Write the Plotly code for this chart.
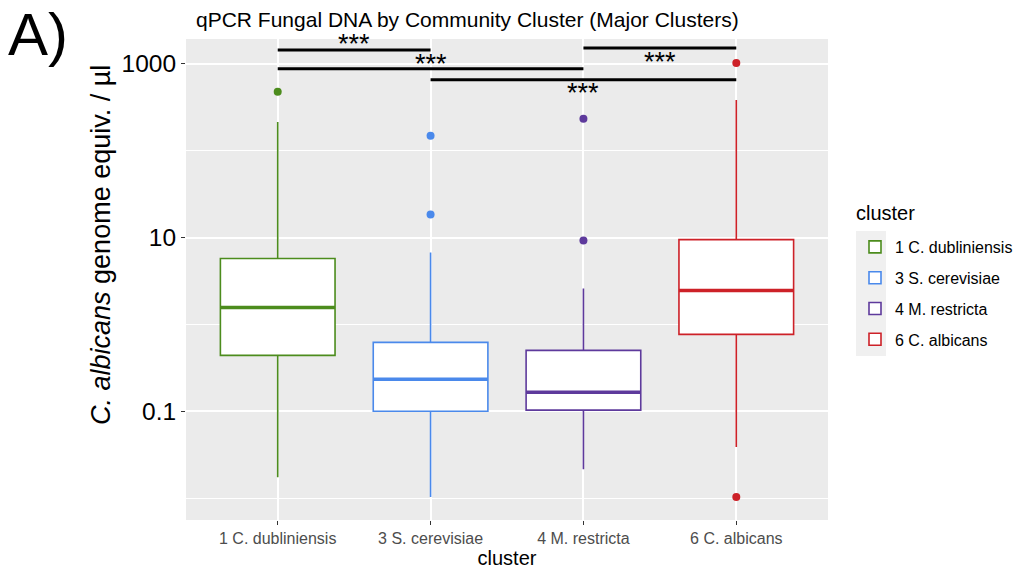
import numpy as np
import plotly.graph_objects as go

clusters = ["1 C. dubliniensis", "3 S. cerevisiae", "4 M. restricta", "6 C. albicans"]
colors = ["#4C8C1D", "#4A89EB", "#5E3A9C", "#CD2128"]
lower_whisker = [0.0174, 0.0103, 0.0215, 0.0386]
q1 = [0.44, 0.100, 0.103, 0.767]
median = [1.57, 0.233, 0.165, 2.46]
q3 = [5.74, 0.621, 0.502, 9.48]
upper_whisker = [215, 6.72, 2.59, 385]
outliers = [[477], [18.4, 148.6], [9.24, 233], [0.0103, 1027]]

sig_from = [0, 0, 2, 1]
sig_to = [1, 2, 3, 3]
sig_height = [1449, 877, 1528, 655]
sig_label = ["***", "***", "***", "***"]
sig_shift = [6, 5, -14, -13]

y_tick_vals = [0.1, 10, 1000]
y_tick_text = ["0.1", "10", "1000"]
y_minor_vals = [0.01, 1, 100]

FONT = "Liberation Sans, Arial, Helvetica, sans-serif"
BOX_W = 0.75

# plot-area geometry in pixels (for paper-coordinate text placement)
L, R, T, B = 186, 828, 39, 520
W, H = 1017, 570


def px(xp):
    return (xp - L) / (R - L)


def py(yp):
    return (B - yp) / (B - T)


fig = go.Figure()
for i, name in enumerate(clusters):
    fig.add_trace(go.Box(
        x=[i], q1=[q1[i]], median=[median[i]], q3=[q3[i]],
        lowerfence=[lower_whisker[i]], upperfence=[upper_whisker[i]],
        width=BOX_W, whiskerwidth=0, fillcolor="white",
        line=dict(color=colors[i], width=1.6),
        name=name, legendgroup=name, boxpoints=False,
    ))
for i, name in enumerate(clusters):
    fig.add_trace(go.Scatter(
        x=[i - BOX_W / 2, i + BOX_W / 2], y=[median[i], median[i]],
        mode="lines", line=dict(color=colors[i], width=3.5),
        showlegend=False, hoverinfo="skip",
    ))
    fig.add_trace(go.Scatter(
        x=[i] * len(outliers[i]), y=outliers[i], mode="markers",
        marker=dict(color=colors[i], size=8),
        showlegend=False,
    ))

for a, b, h, lab, sh in zip(sig_from, sig_to, sig_height, sig_label, sig_shift):
    fig.add_trace(go.Scatter(
        x=[a, b], y=[h, h], mode="lines",
        line=dict(color="black", width=3), showlegend=False,
        hoverinfo="skip", cliponaxis=False,
    ))
    fig.add_annotation(
        x=(a + b) / 2, y=np.log10(h), xref="x", yref="y",
        text=lab, showarrow=False, yanchor="middle", yshift=sh,
        font=dict(family=FONT, size=27, color="black"),
    )

# panel label
fig.add_annotation(
    x=px(6), y=py(34), xref="paper", yref="paper",
    text="A)", showarrow=False, xanchor="left", yanchor="middle",
    font=dict(family=FONT, size=60, color="black"),
)
# title
fig.add_annotation(
    x=px(194), y=py(19), xref="paper", yref="paper",
    text="qPCR Fungal DNA by Community Cluster (Major Clusters)",
    showarrow=False, xanchor="left", yanchor="middle",
    font=dict(family=FONT, size=21, color="black"),
)
# y-axis title
fig.add_annotation(
    x=px(101), y=py(245), xref="paper", yref="paper",
    text="<i>C. albicans</i> genome equiv. / µl", textangle=-90,
    showarrow=False, xanchor="center", yanchor="middle",
    font=dict(family=FONT, size=27, color="black"),
)
# legend title
fig.add_annotation(
    x=px(854), y=py(213), xref="paper", yref="paper",
    text="cluster", showarrow=False, xanchor="left", yanchor="middle",
    font=dict(family=FONT, size=20, color="black"),
)
# legend key background
fig.add_shape(
    type="rect", xref="paper", yref="paper",
    x0=px(856), x1=px(886), y0=py(356), y1=py(231),
    fillcolor="#F0F0F0", line=dict(width=0), layer="below",
)

fig.update_layout(
    width=W, height=H,
    margin=dict(l=L, r=W - R, t=T, b=H - B, autoexpand=False),
    paper_bgcolor="white", plot_bgcolor="#EBEBEB",
    font=dict(family=FONT, color="black"),
    boxmode="overlay",
    xaxis=dict(
        range=[-0.6, 3.6], tickmode="array", tickvals=list(range(len(clusters))),
        ticktext=clusters, showgrid=True, gridcolor="white", gridwidth=1.5,
        zeroline=False, ticks="outside", ticklen=4, tickcolor="#333333",
        tickfont=dict(family=FONT, size=16, color="#4D4D4D"), automargin=False,
        title=dict(text="cluster", font=dict(family=FONT, size=20, color="black"), standoff=0),
    ),
    yaxis=dict(
        type="log", range=[-2.253, 3.287], tickmode="array",
        tickvals=y_tick_vals, ticktext=y_tick_text, automargin=False,
        showgrid=True, gridcolor="white", gridwidth=1.5, zeroline=False,
        ticks="outside", ticklen=4, tickcolor="#333333",
        tickfont=dict(family=FONT, size=24.5, color="black"),
        minor=dict(tickmode="array", tickvals=y_minor_vals, showgrid=True,
                   gridcolor="white", gridwidth=1, ticklen=0),
    ),
    legend=dict(
        x=px(855), xanchor="left", y=py(230), yanchor="top",
        font=dict(family=FONT, size=16, color="black"),
        tracegroupgap=7, bgcolor="rgba(0,0,0,0)",
    ),
    showlegend=True,
)

fig.write_html("out.html", config={"displayModeBar": False},
               post_script="document.body.style.margin='0';")
